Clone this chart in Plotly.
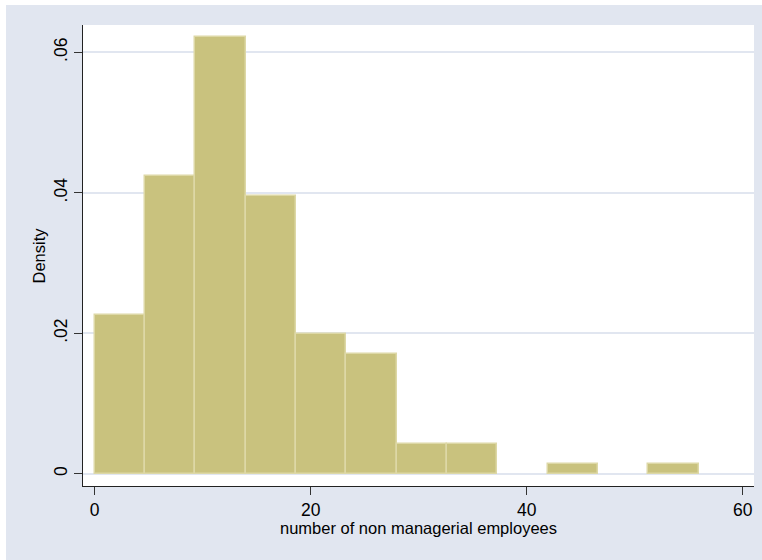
import plotly.graph_objects as go

# Histogram of non-managerial employee counts (density scale)
bin_start = 0.0
bin_width = 4.66
densities = [0.0226, 0.0424, 0.0622, 0.0396, 0.0199, 0.0170,
             0.0042, 0.0042, 0.0, 0.0014, 0.0, 0.0014]
x_ticks = [0, 20, 40, 60]
y_ticks = [0, 0.02, 0.04, 0.06]
y_tick_labels = ["0", ".02", ".04", ".06"]

centers = [bin_start + bin_width * (i + 0.5) for i in range(len(densities))]
# empty bins draw nothing
bars = [(c, d) for c, d in zip(centers, densities) if d > 0]

BG = "#E1E6F0"
GRID = "#E1E6F0"
FONT = "Liberation Sans, Arial, sans-serif"

# plot area in pixels
W, H = 762, 560
ML, MR, MT, MB = 83, 8, 25, 74
PW, PH = W - ML - MR, H - MT - MB

fig = go.Figure()
fig.add_trace(go.Bar(
    x=[b[0] for b in bars],
    y=[b[1] for b in bars],
    width=[bin_width] * len(bars),
    marker=dict(color="#C9C27E", line=dict(color="#DDD8A6", width=1.5)),
    hoverinfo="x+y",
))

fig.update_layout(
    width=W,
    height=H,
    margin=dict(l=ML, r=MR, t=MT, b=MB),
    paper_bgcolor=BG,
    plot_bgcolor="white",
    showlegend=False,
    bargap=0,
    font=dict(family=FONT, size=17, color="#000000"),
    xaxis=dict(
        range=[-1.08, 61.05],
        tickvals=x_ticks,
        ticks="outside",
        ticklen=8,
        tickcolor="#333333",
        tickfont=dict(size=17.5),
        showgrid=False,
        zeroline=False,
        showline=True,
        linecolor="#222222",
        linewidth=1,
    ),
    yaxis=dict(
        range=[-0.00175, 0.0639],
        tickvals=y_ticks,
        ticktext=y_tick_labels,
        tickangle=-90,
        ticks="outside",
        ticklen=8,
        tickcolor="#333333",
        tickfont=dict(size=17.5),
        showgrid=True,
        gridcolor=GRID,
        gridwidth=1.5,
        zeroline=False,
        showline=True,
        linecolor="#222222",
        linewidth=1,
    ),
    annotations=[
        dict(text="number of non managerial employees", xref="paper", yref="paper",
             x=0.5, y=-(528 - (MT + PH)) / PH, xanchor="center", yanchor="middle",
             showarrow=False, font=dict(size=16.5)),
        dict(text="Density", xref="paper", yref="paper",
             x=(38 - ML) / PW, y=0.5, xanchor="center", yanchor="middle",
             textangle=-90, showarrow=False, font=dict(size=16.5)),
    ],
    shapes=[
        # thin white border along the top and left edges of the canvas
        dict(type="rect", xref="paper", yref="paper",
             x0=-ML / PW, x1=-(ML - 6) / PW, y0=-MB / PH, y1=(PH + MT) / PH,
             fillcolor="white", line=dict(width=0), layer="below"),
        dict(type="rect", xref="paper", yref="paper",
             x0=-ML / PW, x1=(PW + MR) / PW, y0=(PH + MT - 5) / PH, y1=(PH + MT) / PH,
             fillcolor="white", line=dict(width=0), layer="below"),
    ],
)

fig.write_html("out.html")
